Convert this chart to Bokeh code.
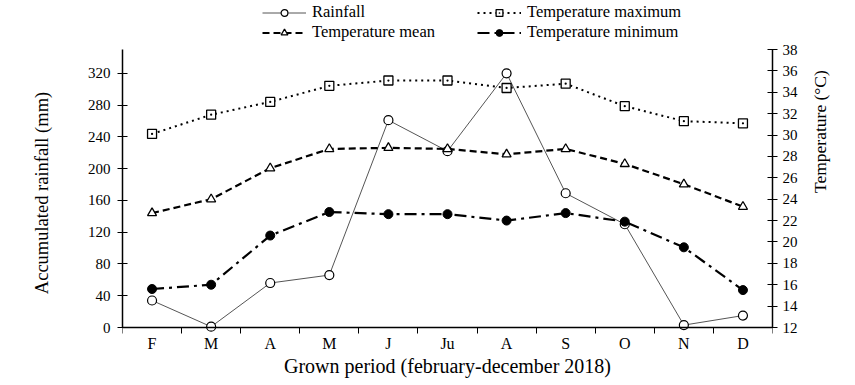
import math
from bokeh.plotting import figure
from bokeh.models import Range1d, LinearAxis, FixedTicker, Legend, LegendItem
from bokeh.embed import file_html
from bokeh.resources import INLINE

months = ["F", "M", "A", "M", "J", "Ju", "A", "S", "O", "N", "D"]
rainfall = [34, 1, 56, 66, 261, 222, 320, 169, 130, 3, 15]
temp_max = [30.1, 31.9, 33.1, 34.6, 35.1, 35.1, 34.4, 34.8, 32.7, 31.3, 31.1]
temp_mean = [22.7, 24.0, 26.9, 28.7, 28.8, 28.7, 28.2, 28.7, 27.3, 25.4, 23.3]
temp_min = [15.6, 16.0, 20.6, 22.8, 22.6, 22.6, 22.0, 22.7, 21.9, 19.5, 15.5]
rain_ticks = [0, 40, 80, 120, 160, 200, 240, 280, 320]
temp_ticks = [12, 14, 16, 18, 20, 22, 24, 26, 28, 30, 32, 34, 36, 38]

FONT = "Liberation Serif"
xs = [i + 0.5 for i in range(len(months))]

# axis extents; the frame extends above/below the axes (legend on top, x axis at fixed location)
RAIN_LO, RAIN_HI = 0, 350
TEMP_LO, TEMP_HI = 12, 38
AXIS_PX, TOP_PX, BOTTOM_PX = 278, 49, 58
ft, fb = TOP_PX / AXIS_PX, BOTTOM_PX / AXIS_PX

p = figure(width=855, height=385, x_range=Range1d(0, len(months)),
           y_range=Range1d(RAIN_LO - (RAIN_HI - RAIN_LO) * fb, RAIN_HI + (RAIN_HI - RAIN_LO) * ft),
           output_backend="svg", toolbar_location=None,
           min_border_left=122, min_border_right=83, min_border_top=0, min_border_bottom=0)
p.extra_y_ranges = {"temp": Range1d(TEMP_LO - (TEMP_HI - TEMP_LO) * fb, TEMP_HI + (TEMP_HI - TEMP_LO) * ft)}
p.outline_line_color = None
p.xgrid.visible = False
p.ygrid.visible = False

# x axis
xa = p.xaxis[0]
xa.fixed_location = RAIN_LO
xa.ticker = FixedTicker(ticks=xs, minor_ticks=list(range(len(months) + 1)))
xa.major_label_overrides = {x: m for x, m in zip(xs, months)}
xa.major_tick_out = 0
xa.major_tick_in = 0
xa.minor_tick_out = 6
xa.minor_tick_in = 0
xa.axis_label = "Grown period (february-december 2018)"
xa.axis_label_text_font = FONT
xa.axis_label_text_font_size = "20px"
xa.axis_label_text_font_style = "normal"
xa.axis_label_text_color = "black"
xa.axis_label_standoff = 0
xa.major_label_text_font = FONT
xa.major_label_text_font_size = "16px"
xa.major_label_text_color = "black"
xa.major_label_standoff = 1
xa.axis_line_color = "black"
xa.axis_line_width = 1.5

ya = p.yaxis[0]
ya.ticker = FixedTicker(ticks=rain_ticks)
ya.bounds = (RAIN_LO, RAIN_HI)
ya.minor_tick_out = 0
ya.minor_tick_in = 0
ya.major_tick_in = 5
ya.major_tick_out = 5
ya.axis_label = "Accumulated rainfall (mm)"
ya.axis_label_text_font = FONT
ya.axis_label_text_font_size = "18.5px"
ya.axis_label_text_font_style = "normal"
ya.axis_label_text_color = "black"
ya.axis_label_standoff = 33
ya.major_label_text_font = FONT
ya.major_label_text_font_size = "15px"
ya.major_label_text_color = "black"
ya.major_label_standoff = 7
ya.axis_line_width = 1.5

ra = LinearAxis(y_range_name="temp", ticker=FixedTicker(ticks=temp_ticks), bounds=(TEMP_LO, TEMP_HI))
ra.minor_tick_out = 0
ra.minor_tick_in = 0
ra.major_tick_in = 5
ra.major_tick_out = 5
ra.axis_label = "Temperature (°C)"
ra.axis_label_text_font = FONT
ra.axis_label_text_font_size = "17.5px"
ra.axis_label_text_font_style = "normal"
ra.axis_label_text_color = "black"
ra.axis_label_standoff = 19
ra.major_label_text_font = FONT
ra.major_label_text_font_size = "15px"
ra.major_label_text_color = "black"
ra.major_label_standoff = 5
ra.axis_line_width = 1.5
if "axis_label_orientation" in LinearAxis.properties():
    ra.axis_label_orientation = math.pi / 2
p.add_layout(ra, "right")

r1l = p.line(xs, rainfall, line_color="#555555", line_width=1)
r1m = p.scatter(xs, rainfall, marker="circle", size=9, fill_color="white", line_color="black", line_width=1.2)
r2l = p.line(xs, temp_max, y_range_name="temp", line_color="black", line_width=2, line_dash="dotted")
r2m = p.scatter(xs, temp_max, y_range_name="temp", marker="square_dot", size=9, fill_color="white",
                line_color="black", line_width=1.3)
r3l = p.line(xs, temp_mean, y_range_name="temp", line_color="black", line_width=2.2, line_dash="7 4")
r3m = p.scatter(xs, temp_mean, y_range_name="temp", marker="triangle", size=9, fill_color="white",
                line_color="black", line_width=1.3)
r4l = p.line(xs, temp_min, y_range_name="temp", line_color="black", line_width=2.2, line_dash="12 5 3 5")
r4m = p.scatter(xs, temp_min, y_range_name="temp", marker="circle", size=9, fill_color="black",
                line_color="black")

legend = Legend(items=[LegendItem(label="Rainfall", renderers=[r1l, r1m]),
                       LegendItem(label="Temperature maximum", renderers=[r2l, r2m]),
                       LegendItem(label="Temperature mean", renderers=[r3l, r3m]),
                       LegendItem(label="Temperature minimum", renderers=[r4l, r4m])],
                location=(140, 343), orientation="horizontal", ncols=2)
legend.label_text_font = FONT
legend.label_text_font_size = "16.5px"
legend.label_text_color = "black"
legend.label_height = 17
legend.glyph_height = 17
legend.glyph_width = 44
legend.label_width = 165
legend.label_standoff = 6
legend.spacing = 0
legend.padding = 0
legend.margin = 0
legend.border_line_color = None
legend.background_fill_alpha = 0
p.add_layout(legend, "center")

open("out.html", "w").write(file_html(p, INLINE))
